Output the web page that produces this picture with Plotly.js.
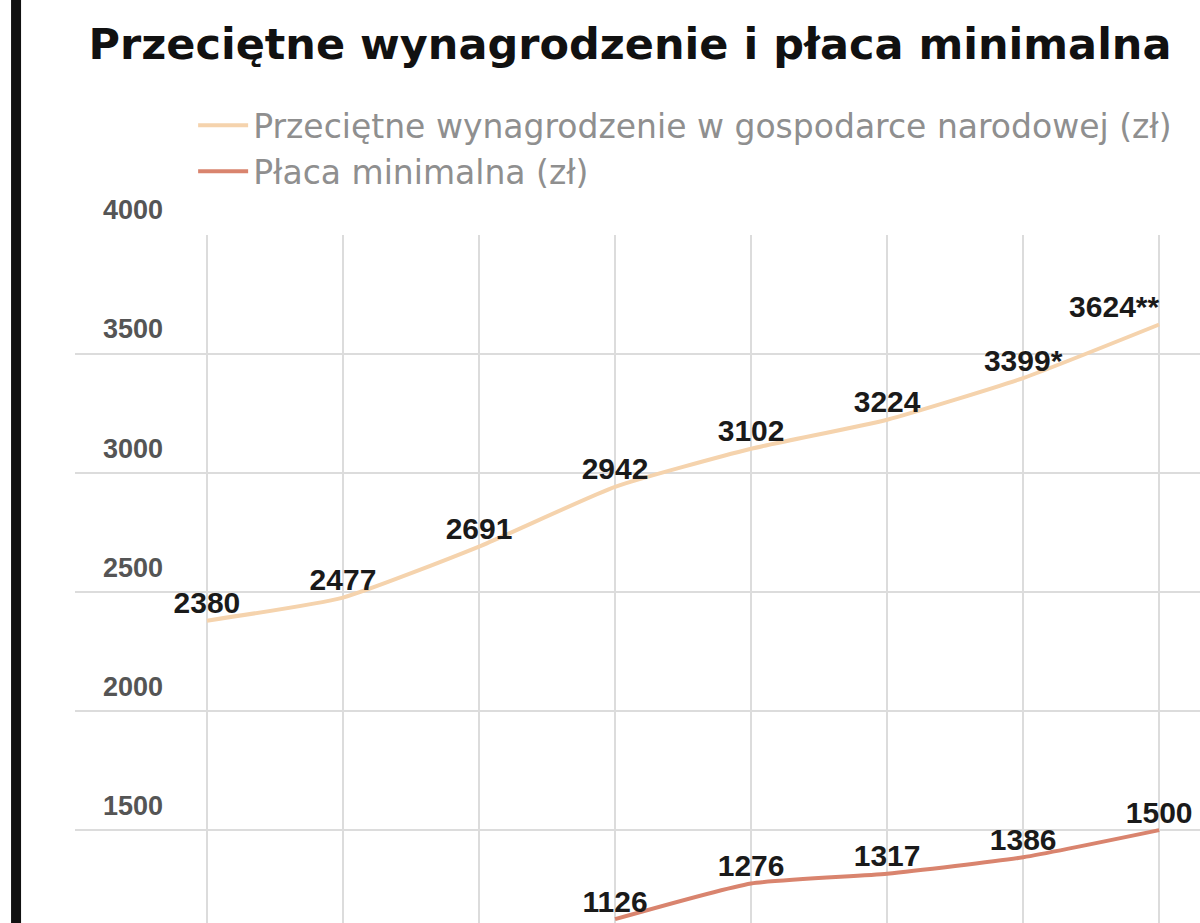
<!DOCTYPE html>
<html>
<head>
<meta charset="utf-8">
<script src="https://cdn.plot.ly/plotly-3.0.1.min.js"></script>
<style>
  html, body { margin: 0; padding: 0; background: #fff; }
  #chart { width: 1200px; height: 923px; }
</style>
</head>
<body>
<div id="chart"></div>
<script>
// years on the category axis
var years = ['2005', '2006', '2007', '2008', '2009', '2010', '2011', '2012'];

// average wage (zł)
var avgWage = [2380, 2477, 2691, 2942, 3102, 3224, 3399, 3624];
var avgLabels = ['2380', '2477', '2691', '2942', '3102', '3224', '3399*', '3624**'];

// minimum wage (zł), from 2008
var minYears = ['2008', '2009', '2010', '2011', '2012'];
var minWage = [1126, 1276, 1317, 1386, 1500];
var minLabels = ['1126', '1276', '1317', '1386', '1500'];

var labelFont = { family: 'Liberation Sans', size: 30, color: '#1a1a1a', weight: 'bold' };

var avgTrace = {
  x: years,
  y: avgWage,
  text: avgLabels,
  name: 'Przeciętne wynagrodzenie w gospodarce narodowej (zł)',
  type: 'scatter',
  mode: 'lines+text',
  // last label pulled left so it stays on the page
  textposition: ['top center', 'top center', 'top center', 'top center',
                 'top center', 'top center', 'top center', 'top left'],
  textfont: labelFont,
  cliponaxis: false,
  line: { color: '#f5d3ad', width: 4, shape: 'spline', smoothing: 0.5 }
};

var minTrace = {
  x: minYears,
  y: minWage,
  text: minLabels,
  name: 'Płaca minimalna (zł)',
  type: 'scatter',
  mode: 'lines+text',
  textposition: 'top center',
  textfont: labelFont,
  cliponaxis: false,
  line: { color: '#d9846e', width: 4, shape: 'spline', smoothing: 0.5 }
};

var layout = {
  width: 1200,
  height: 923,
  margin: { l: 75, r: 0, t: 235, b: 0 },
  paper_bgcolor: '#ffffff',
  plot_bgcolor: '#ffffff',
  title: {
    text: 'Przeciętne wynagrodzenie i płaca minimalna',
    font: { family: 'DejaVu Sans', size: 43, color: '#111', weight: 'bold' },
    x: 0.525,
    xanchor: 'center',
    y: 0.952,
    yanchor: 'middle'
  },
  showlegend: true,
  legend: {
    x: 0.105,
    xanchor: 'left',
    y: 1.2,
    yanchor: 'top',
    bgcolor: 'rgba(0,0,0,0)',
    font: { family: 'DejaVu Sans', size: 33, color: '#8f8f8f' },
    itemwidth: 50,
    tracegroupgap: 0
  },
  xaxis: {
    type: 'category',
    range: [-0.97, 7.3],
    showgrid: true,
    gridcolor: '#dcdcdc',
    gridwidth: 2,
    showticklabels: false,
    zeroline: false,
    showline: false
  },
  yaxis: {
    range: [1110, 4000],
    dtick: 500,
    tick0: 0,
    showgrid: true,
    gridcolor: '#dcdcdc',
    gridwidth: 2,
    zeroline: false,
    showline: false,
    ticklabelposition: 'inside',
    ticklabeloverflow: 'allow',
    ticklabelstandoff: 25,
    ticklabelshift: -25,
    tickfont: { family: 'Liberation Sans', size: 27, color: '#555', weight: 'bold' }
  },
  shapes: [
    {
      type: 'line', xref: 'paper', yref: 'paper',
      x0: -0.0524, x1: -0.0524, y0: -0.05, y1: 1.4,
      line: { color: '#111', width: 10 }
    }
  ]
};

Plotly.newPlot('chart', [avgTrace, minTrace], layout, { displayModeBar: false, staticPlot: true });
</script>
</body>
</html>
